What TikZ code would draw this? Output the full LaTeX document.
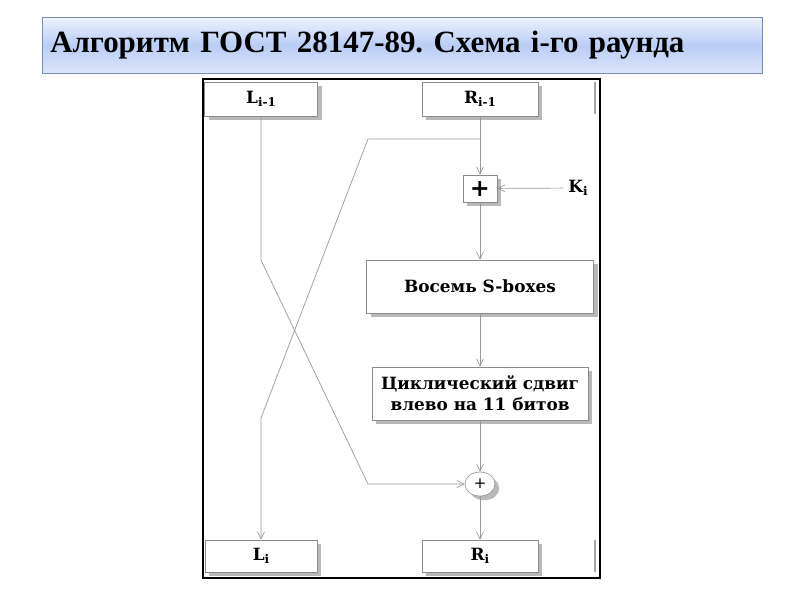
\documentclass[tikz,border=0pt]{standalone}
\usepackage{fontspec}
\setmainfont{DejaVu Serif}
\newfontfamily\titlefont{Liberation Serif}
\usetikzlibrary{arrows.meta,shadows,shapes.geometric}
\newcommand\lowidx[1]{\raisebox{-0.4ex}{\fontsize{8.5}{8.5}\selectfont#1}}
\definecolor{barblue}{RGB}{185,205,245}
\definecolor{bartop}{RGB}{238,242,252}
\definecolor{barbot}{RGB}{222,230,250}
\definecolor{barline}{RGB}{120,140,175}
\frenchspacing

\begin{document}
\begin{tikzpicture}
    [x=0.025cm,y=-0.025cm
    ,>={Straight Barb[length=5pt,width=5pt]}
    ,line/.style={draw=gray!80,line width=0.5pt}
    ,blk/.style={draw=gray!90,fill=white,align=center,inner sep=0pt
      ,font=\bfseries\fontsize{12}{15}\selectfont
      ,drop shadow={shadow xshift=3pt,shadow yshift=-3pt,fill=gray!55,opacity=1}}
    ]

    \useasboundingbox (0,0) rectangle (800,600);
    \fill[white] (0,0) rectangle (800,600);

    \node[draw=barline,top color=bartop,bottom color=barbot,middle color=barblue
         ,anchor=north west,minimum width=18cm,minimum height=1.4cm
         ,text width=17.6cm,align=left
         ,font=\titlefont\bfseries\fontsize{22}{24}\selectfont] (title) at (42,17)
         {Алгоритм ГОСТ 28147-89. Схема i-го раунда};

    \draw[line width=2pt] (203,79) rectangle (600,578);
    \draw[gray!70,line width=1pt] (595,82) -- (595,114);
    \draw[gray!70,line width=1pt] (595,540) -- (595,572);

    \node[blk,minimum width=2.825cm,minimum height=0.85cm] (lprev) at (261,99) {L\lowidx{i-1}};
    \node[blk,minimum width=2.9cm,minimum height=0.85cm] (rprev) at (480,99) {R\lowidx{i-1}};
    \node[blk,minimum width=0.85cm,minimum height=0.675cm,font=\bfseries\fontsize{17}{17}\selectfont] (addk) at (480,188.5) {+};
    \node[font=\bfseries\fontsize{12}{15}\selectfont] (kkey) at (578,188) {K\lowidx{i}};
    \node[blk,minimum width=5.675cm,minimum height=1.325cm] (sbox) at (480,286.5) {Восемь S-boxes};
    \node[blk,minimum width=5.4cm,minimum height=1.325cm] (rot) at (480,393.5) {Циклический сдвиг\\влево на 11 битов};
    \node[blk,ellipse,minimum width=0.75cm,minimum height=0.6cm,font=\fontsize{11}{11}\selectfont] (xorr) at (480,484) {+};
    \node[blk,minimum width=2.8cm,minimum height=0.8cm] (lnext) at (261,556) {L\lowidx{i}};
    \node[blk,minimum width=2.9cm,minimum height=0.8cm] (rnext) at (480,556) {R\lowidx{i}};

    \coordinate (lbend) at (261,260);
    \coordinate (lcross) at (368,484);
    \coordinate (rsplit) at (480,139);
    \coordinate (rbend) at (368,139);
    \coordinate (rlow) at (261,418);

    \draw[line,->] (rprev) -- (addk);
    \draw[line,->] (kkey) -- (addk);
    \draw[line,->] (addk) -- (sbox);
    \draw[line,->] (sbox) -- (rot);
    \draw[line,->] (rot) -- (xorr);
    \draw[line,->] (xorr) -- (rnext);
    \draw[line,->] (lprev) -- (lbend) -- (lcross) -- (xorr);
    \draw[line,->] (rsplit) -- (rbend) -- (rlow) -- (lnext);

\end{tikzpicture}
\end{document}
